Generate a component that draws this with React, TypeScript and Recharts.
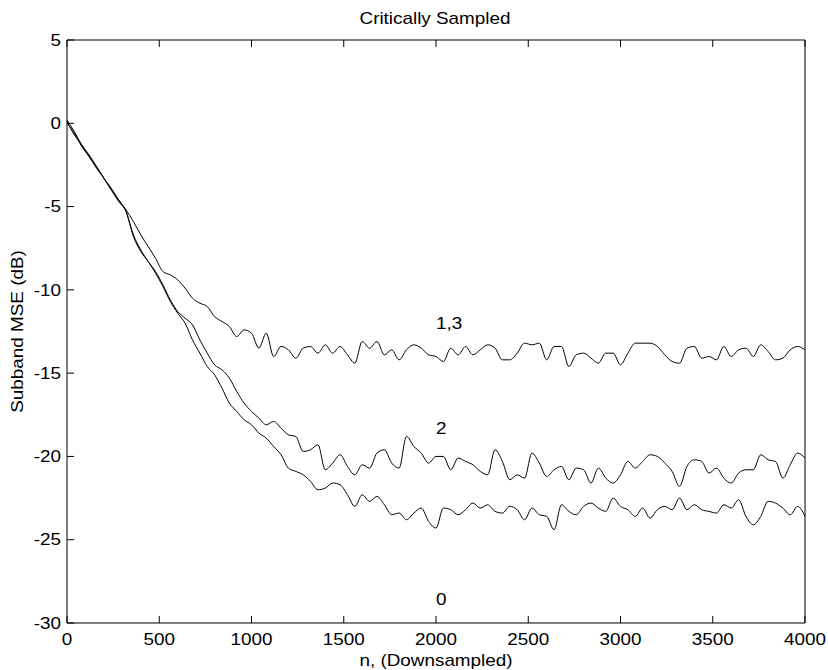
import React from 'react';
import { LineChart, Line, XAxis, YAxis, ReferenceDot } from 'recharts';

const STEP = 40;

const mse13 = [
  0.2, -0.5, -1.3, -1.9, -2.6, -3.3, -3.9, -4.6, -5.2, -5.9,
  -6.7, -7.4, -8.1, -8.9, -9.1, -9.4, -9.9, -10.5, -10.8, -11.0,
  -11.6, -11.9, -12.2, -12.8, -12.4, -12.6, -13.5, -12.6, -14.0, -13.4,
  -13.6, -14.1, -13.5, -13.4, -13.8, -13.3, -13.8, -13.4, -13.9, -14.4,
  -13.1, -13.5, -13.1, -13.9, -13.6, -14.2, -13.6, -13.3, -13.5, -13.9,
  -14.0, -14.3, -13.5, -13.9, -13.4, -13.9, -13.6, -13.3, -13.5, -14.2,
  -14.2, -13.8, -13.2, -13.3, -13.2, -14.2, -13.4, -13.4, -14.6, -13.9,
  -13.8, -14.1, -14.4, -13.8, -13.8, -14.5, -13.8, -13.2, -13.2, -13.2,
  -13.4, -13.9, -14.3, -14.4, -13.5, -13.4, -14.1, -14.0, -14.2, -13.4,
  -14.0, -13.6, -13.5, -14.0, -13.3, -13.7, -14.2, -14.1, -13.6, -13.4,
  -13.6,
];

const mse2 = [
  0.1, -0.7, -1.3, -2.0, -2.6, -3.3, -4.0, -4.6, -5.3, -6.7,
  -7.6, -8.3, -8.9, -9.7, -10.6, -11.3, -11.7, -12.1, -13.0, -13.8,
  -14.5, -14.8, -15.3, -16.1, -16.8, -17.3, -17.7, -18.1, -17.9, -18.3,
  -18.7, -18.8, -19.7, -19.6, -19.3, -20.8, -20.4, -19.9, -20.6, -21.1,
  -20.5, -20.7, -19.8, -19.6, -20.4, -20.7, -18.8, -19.4, -19.8, -20.4,
  -20.0, -20.0, -20.8, -20.1, -20.3, -20.5, -20.9, -21.1, -19.6, -20.3,
  -21.4, -21.1, -21.3, -19.8, -20.4, -21.2, -20.8, -20.6, -21.4, -20.7,
  -20.8, -21.6, -20.7, -21.3, -21.6, -21.1, -20.3, -20.7, -20.3, -19.9,
  -20.0, -20.4, -20.9, -21.8, -20.6, -20.2, -20.3, -21.0, -20.7, -21.3,
  -21.6, -21.0, -20.8, -20.8, -19.9, -20.2, -20.3, -21.3, -20.5, -19.8,
  -20.1,
];

const mse0 = [
  0.0, -0.6, -1.4, -2.0, -2.7, -3.3, -4.0, -4.7, -5.3, -6.8,
  -7.7, -8.3, -9.0, -9.8, -10.7, -11.4, -12.0, -13.0, -13.8, -14.6,
  -15.1, -15.9, -16.8, -17.3, -17.8, -18.1, -18.6, -18.9, -19.4, -19.9,
  -20.7, -20.9, -21.1, -21.5, -22.0, -21.9, -21.6, -21.7, -22.3, -23.0,
  -22.3, -22.7, -22.4, -22.9, -23.5, -23.4, -23.8, -23.4, -23.1, -23.9,
  -24.3, -23.1, -23.2, -23.5, -23.2, -22.8, -23.1, -22.9, -23.3, -23.4,
  -23.0, -23.2, -23.8, -23.1, -23.5, -23.6, -24.4, -22.9, -23.3, -23.5,
  -23.0, -22.8, -23.1, -23.3, -22.5, -23.0, -23.2, -23.6, -23.1, -23.7,
  -23.2, -23.0, -23.2, -22.5, -23.2, -22.9, -23.2, -23.3, -23.4, -22.9,
  -23.1, -22.6, -23.6, -24.1, -23.6, -22.7, -22.8, -23.1, -23.5, -23.0,
  -23.6,
];

const xTicks = [0, 500, 1000, 1500, 2000, 2500, 3000, 3500, 4000];
const yTicks = [-30, -25, -20, -15, -10, -5, 0, 5];

// curve annotations, placed at data coordinates
const curveLabels = [
  { text: '1,3', n: 2000, v: -12 },
  { text: '2', n: 2000, v: -18.3 },
  { text: '0', n: 2000, v: -28.6 },
];

const data = mse13.map((v, i) => ({ n: i * STEP, s13: v, s2: mse2[i], s0: mse0[i] }));

const FONT = '"Liberation Sans", Arial, Helvetica, sans-serif';
const SX = 1.18; // the original text is a little wide
const TICK = 7;

// negative tick size -> matlab style ticks pointing into the box;
// tickMargin = TICK puts the label anchor back on the axis line
const tickStyle = { stroke: '#000', strokeWidth: 1 };

const BottomLabel = ({ x, y, payload }: any) => (
  <text
    transform={`translate(${x},${y + 22}) scale(${SX},1)`}
    textAnchor="middle"
    fontSize={16}
    fontFamily={FONT}
    fill="#000"
  >
    {payload.value}
  </text>
);

const LeftLabel = ({ x, y, payload }: any) => (
  <text
    transform={`translate(${x - 6},${y + 5.7}) scale(${SX},1)`}
    textAnchor="end"
    fontSize={16}
    fontFamily={FONT}
    fill="#000"
  >
    {payload.value}
  </text>
);

const NoLabel = () => <g />;

const CurveLabel = ({ cx, cy, text }: any) => (
  <text
    transform={`translate(${cx},${cy + 5.7}) scale(${SX},1)`}
    textAnchor="start"
    fontSize={16}
    fontFamily={FONT}
    fill="#000"
  >
    {text}
  </text>
);

const axisLine = { stroke: '#000' };

const App = () => {
  return (
    <div style={{ position: 'absolute', left: 0, top: 0, width: 828, height: 670, background: '#fff' }}>
      <LineChart width={828} height={670} data={data} margin={{ top: 39, right: 22, bottom: 17, left: 17 }}>
        <XAxis
          xAxisId="bottom"
          dataKey="n"
          type="number"
          domain={[0, 4000]}
          ticks={xTicks}
          interval={0}
          height={30}
          tickSize={-TICK}
          tickMargin={TICK}
          tickLine={tickStyle}
          axisLine={axisLine}
          tick={<BottomLabel />}
        />
        <XAxis
          xAxisId="top"
          orientation="top"
          dataKey="n"
          type="number"
          domain={[0, 4000]}
          ticks={xTicks}
          interval={0}
          height={1}
          tickSize={-TICK}
          tickMargin={TICK}
          tickLine={tickStyle}
          axisLine={axisLine}
          tick={<NoLabel />}
        />
        <YAxis
          yAxisId="left"
          type="number"
          domain={[-30, 5]}
          ticks={yTicks}
          interval={0}
          width={50}
          tickSize={-TICK}
          tickMargin={TICK}
          tickLine={tickStyle}
          axisLine={axisLine}
          tick={<LeftLabel />}
        />
        <YAxis
          yAxisId="right"
          orientation="right"
          type="number"
          domain={[-30, 5]}
          ticks={yTicks}
          interval={0}
          width={1}
          tickSize={-TICK}
          tickMargin={TICK}
          tickLine={tickStyle}
          axisLine={axisLine}
          tick={<NoLabel />}
        />
        <Line xAxisId="bottom" yAxisId="left" type="monotone" dataKey="s13" stroke="#000" strokeWidth={1} dot={false} isAnimationActive={false} />
        <Line xAxisId="bottom" yAxisId="left" type="monotone" dataKey="s2" stroke="#000" strokeWidth={1} dot={false} isAnimationActive={false} />
        <Line xAxisId="bottom" yAxisId="left" type="monotone" dataKey="s0" stroke="#000" strokeWidth={1} dot={false} isAnimationActive={false} />
        {curveLabels.map((l) => (
          <ReferenceDot
            key={l.text}
            xAxisId="bottom"
            yAxisId="left"
            x={l.n}
            y={l.v}
            r={0}
            shape={(p: any) => <CurveLabel {...p} text={l.text} />}
          />
        ))}
      </LineChart>
      <svg width={828} height={670} style={{ position: 'absolute', left: 0, top: 0, pointerEvents: 'none' }}>
        <text transform={`translate(435,24) scale(${SX},1)`} textAnchor="middle" fontSize={16} fontFamily={FONT} fill="#000">
          Critically Sampled
        </text>
        <text transform={`translate(436,666) scale(${SX},1)`} textAnchor="middle" fontSize={16} fontFamily={FONT} fill="#000">
          n, (Downsampled)
        </text>
        <text transform={`translate(23,331.5) rotate(-90) scale(${SX},1)`} textAnchor="middle" fontSize={16} fontFamily={FONT} fill="#000">
          Subband MSE (dB)
        </text>
      </svg>
    </div>
  );
};

export default App;
